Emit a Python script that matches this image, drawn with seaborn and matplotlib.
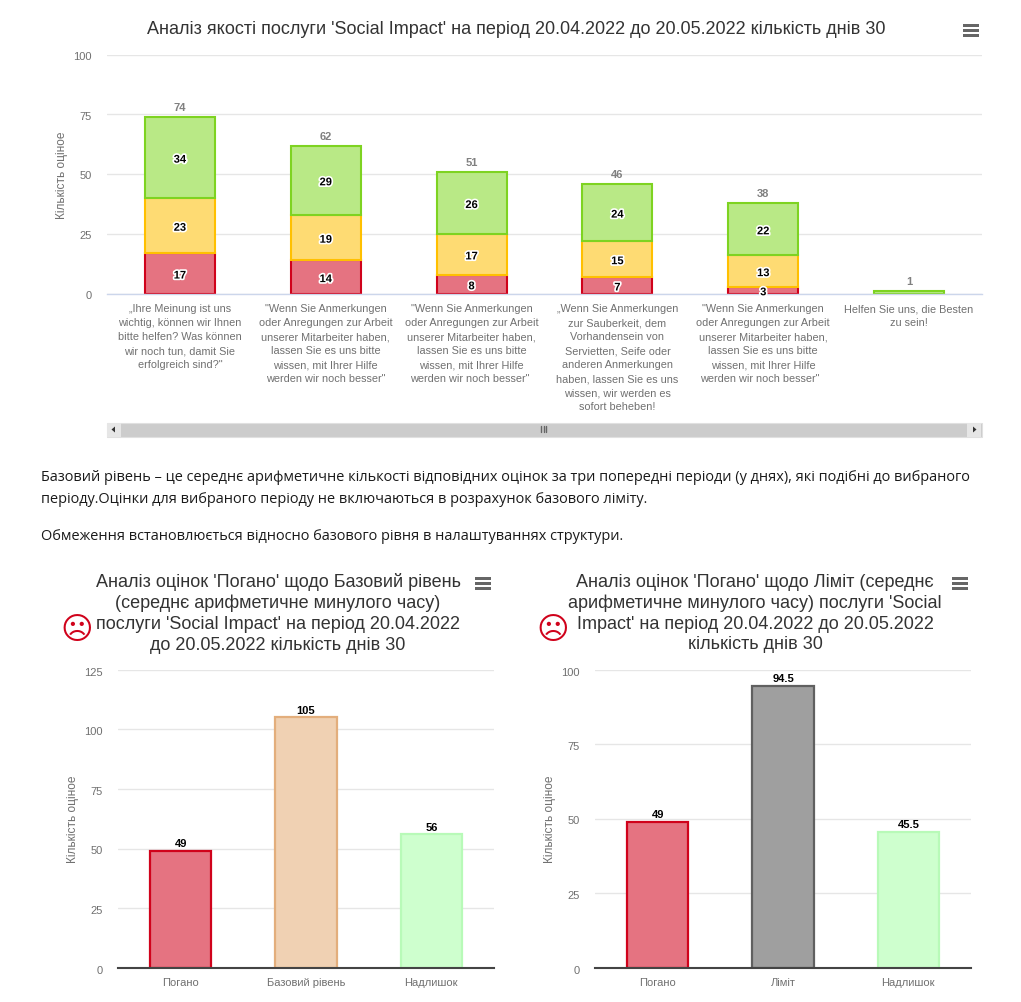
import numpy as np
import pandas as pd
import matplotlib
matplotlib.use("Agg")
import matplotlib.pyplot as plt
import matplotlib.patheffects as pe
from matplotlib.patches import Rectangle, Polygon
from matplotlib.transforms import ScaledTranslation
import seaborn as sns

sns.set_theme(style="white")
plt.rcParams['font.family'] = ['Liberation Sans', 'DejaVu Sans']

W, H = 1021, 1003

top_cats = [
    "„Ihre Meinung ist uns\nwichtig, können wir Ihnen\nbitte helfen? Was können\nwir noch tun, damit Sie\nerfolgreich sind?\"",
    "\"Wenn Sie Anmerkungen\noder Anregungen zur Arbeit\nunserer Mitarbeiter haben,\nlassen Sie es uns bitte\nwissen, mit Ihrer Hilfe\nwerden wir noch besser\"",
    "\"Wenn Sie Anmerkungen\noder Anregungen zur Arbeit\nunserer Mitarbeiter haben,\nlassen Sie es uns bitte\nwissen, mit Ihrer Hilfe\nwerden wir noch besser\" ",
    "„Wenn Sie Anmerkungen\nzur Sauberkeit, dem\nVorhandensein von\nServietten, Seife oder\nanderen Anmerkungen\nhaben, lassen Sie es uns\nwissen, wir werden es\nsofort beheben!",
    "\"Wenn Sie Anmerkungen\noder Anregungen zur Arbeit\nunserer Mitarbeiter haben,\nlassen Sie es uns bitte\nwissen, mit Ihrer Hilfe\nwerden wir noch besser\"  ",
    "Helfen Sie uns, die Besten\nzu sein!",
]
bad_vals = [17, 14, 8, 7, 3, 0]
mid_vals = [23, 19, 17, 15, 13, 0]
good_vals = [34, 29, 26, 24, 22, 1]

left_cats = ["Погано", "Базовий рівень", "Надлишок"]
left_vals = [49, 105, 56]
right_cats = ["Погано", "Ліміт", "Надлишок"]
right_vals = [49, 94.5, 45.5]

title_top = "Аналіз якості послуги 'Social Impact' на період 20.04.2022 до 20.05.2022 кількість днів 30"
title_left = "Аналіз оцінок 'Погано' щодо Базовий рівень\n(середнє арифметичне минулого часу)\nпослуги 'Social Impact' на період 20.04.2022\nдо 20.05.2022 кількість днів 30"
title_right = "Аналіз оцінок 'Погано' щодо Ліміт (середнє\nарифметичне минулого часу) послуги 'Social\nImpact' на період 20.04.2022 до 20.05.2022\nкількість днів 30"
para1 = "Базовий рівень – це середнє арифметичне кількості відповідних оцінок за три попередні періоди (у днях), які подібні до вибраного\nперіоду.Оцінки для вибраного періоду не включаються в розрахунок базового ліміту."
para2 = "Обмеження встановлюється відносно базового рівня в налаштуваннях структури."
ylabel = "Кількість оціное"

RED, RED_E = "#e57381", "#d0021b"
YEL, YEL_E = "#fedb73", "#ffc000"
GRN, GRN_E = "#b9e986", "#7ed321"
BEI, BEI_E = "#f0d1b3", "#e3ae7c"
EXC, EXC_E = "#ceffce", "#b8fab8"
GRY, GRY_E = "#9f9f9f", "#606060"
TICK = "#707070"

fig = plt.figure(figsize=(W / 100, H / 100), dpi=100, facecolor="white")


def px_axes(x0, x1, y0, y1):
    ax = fig.add_axes([x0 / W, 1 - y1 / H, (x1 - x0) / W, (y1 - y0) / H])
    ax.set_facecolor("none")
    for s in ax.spines.values():
        s.set_visible(False)
    return ax


def style_axes(ax, ymax, step, base_color, base_w, label_x, drop_px, ypad):
    ax.set_ylim(0, ymax)
    ax.set_yticks(np.arange(0, ymax + 1, step))
    ax.grid(axis="y", color="#e6e6e6", lw=1)
    ax.grid(axis="x", visible=False)
    ax.set_axisbelow(True)
    ax.spines["bottom"].set_visible(True)
    ax.spines["bottom"].set_color(base_color)
    ax.spines["bottom"].set_linewidth(base_w)
    ax.tick_params(axis="y", length=0, labelsize=8, labelcolor=TICK, pad=ypad)
    ax.tick_params(axis="x", length=0, labelsize=8, labelcolor=TICK)
    shift = ScaledTranslation(0, -drop_px / 100, fig.dpi_scale_trans)
    for lab in ax.get_yticklabels():
        lab.set_verticalalignment("center")
        lab.set_transform(lab.get_transform() + shift)
    ax.set_xlabel("")
    ax.set_ylabel(ylabel, fontsize=8.6, color=TICK)
    ax.yaxis.set_label_coords(label_x, 0.5)


# ---------- top stacked chart ----------
ax = px_axes(107, 982, 55.7, 294.7)
df = pd.DataFrame({"cat": top_cats, "bad": bad_vals, "mid": mid_vals, "good": good_vals})
bad = df["bad"].to_numpy(float)
mid = df["mid"].to_numpy(float)
good = df["good"].to_numpy(float)
kw = dict(x="cat", order=top_cats, width=0.48, linewidth=1.5, ax=ax, dodge=False, errorbar=None)
for col, bottom, fc, ec in (("bad", 0, RED, RED_E), ("mid", bad, YEL, YEL_E), ("good", bad + mid, GRN, GRN_E)):
    sub = df.assign(val=df[col].where(df[col] > 0))
    b = np.asarray(bottom)[df[col] > 0] if np.ndim(bottom) else 0
    sns.barplot(data=sub.dropna(subset=["val"]), y="val", bottom=b, color=fc, saturation=1, edgecolor=ec, **kw)
ax.set_xlim(-0.5, 5.5)
style_axes(ax, 100, 25, "#ccd6eb", 1, -0.0450, 1.2, 11)
ax.tick_params(axis="x", pad=7)
ax.set_xticks(range(6))
ax.set_xticklabels(top_cats, fontsize=7.85, color=TICK, linespacing=1.5)

stroke = [pe.withStroke(linewidth=2.4, foreground="white")]
for i in range(6):
    b = 0
    for v in (bad[i], mid[i], good[i]):
        if v > 1:
            ax.text(i, b + v / 2 - 0.9, f"{v:.0f}", ha="center", va="center", fontsize=8,
                    fontweight="bold", color="black", path_effects=stroke, zorder=6)
        b += v
    tot = bad[i] + mid[i] + good[i]
    ax.text(i, tot + 2.1, f"{tot:.0f}", ha="center", va="bottom", fontsize=8,
            fontweight="bold", color="#808080", zorder=6)


# ---------- bottom charts ----------
def single(x0, x1, cats, vals, colors, edges, ymax, step):
    a = px_axes(x0, x1, 670.7, 968.7)
    d = pd.DataFrame({"cat": cats, "val": vals})
    sns.barplot(data=d, x="cat", y="val", hue="cat", order=cats, hue_order=cats,
                palette=colors, saturation=1, width=0.487, linewidth=1.6, legend=False,
                errorbar=None, ax=a, edgecolor="none")
    for patch, ec in zip(a.patches, edges):
        patch.set_edgecolor(ec)
    a.set_xlim(-0.5, 2.5)
    style_axes(a, ymax, step, "#444444", 1.5, -0.103, 1.8, 11)
    a.tick_params(axis="x", pad=7)
    a.set_xticks(range(3))
    a.set_xticklabels(cats, fontsize=8, color=TICK)
    for i, v in enumerate(vals):
        a.text(i, v + ymax * 0.009, f"{v:g}", ha="center", va="bottom", fontsize=8,
               fontweight="bold", color="black", zorder=6)
    return a


single(118, 494, left_cats, left_vals, [RED, BEI, EXC], [RED_E, BEI_E, EXC_E], 125, 25)
single(595, 971, right_cats, right_vals, [RED, GRY, EXC], [RED_E, GRY_E, EXC_E], 100, 25)

# ---------- page furniture in pixel coordinates ----------
ov = fig.add_axes([0, 0, 1, 1], zorder=10)
ov.set_xlim(0, W)
ov.set_ylim(H, 0)
ov.axis("off")
ov.patch.set_alpha(0)

TITLE = "#333333"
ov.text(516, 29, title_top, ha="center", va="center", fontsize=12.95, color=TITLE)
ov.text(278, 613.5, title_left, ha="center", va="center", fontsize=12.95, color=TITLE, linespacing=1.28)
ov.text(755, 613.5, title_right, ha="center", va="center", fontsize=12.95, color=TITLE, linespacing=1.28)

ov.text(40.5, 488.5, para1, ha="left", va="center", fontsize=10.45, color="#1a1a1a",
        family="Open Sans", linespacing=1.62)
ov.text(40.5, 536.5, para2, ha="left", va="center", fontsize=10.45, color="#1a1a1a", family="Open Sans")

for x in (76.5, 553):
    ov.text(x, 630, "☹", ha="center", va="center", fontsize=22.5, color=RED_E, family="DejaVu Sans")

for x0, y0 in ((963, 25), (475, 578), (952, 578)):
    for k in range(3):
        ov.add_patch(Rectangle((x0, y0 + k * 5), 16, 3.2, fc="#666666", ec="none"))

# scrollbar
ov.add_patch(Rectangle((106.5, 423.5), 875, 14, fc="#cccccc", ec="#e0e0e0", lw=0.8))
for x0 in (107, 967):
    ov.add_patch(Rectangle((x0, 424), 14, 13.5, fc="#e6e6e6", ec="none"))
ov.add_patch(Polygon([[115, 427.5], [115, 433.5], [111.5, 430.5]], fc="#333333", ec="none"))
ov.add_patch(Polygon([[973, 427.5], [973, 433.5], [976.5, 430.5]], fc="#333333", ec="none"))
for x in (541, 543.5, 546):
    ov.plot([x, x], [427, 433], color="#666666", lw=1)

fig.savefig("out.png", dpi=100, facecolor="white")
